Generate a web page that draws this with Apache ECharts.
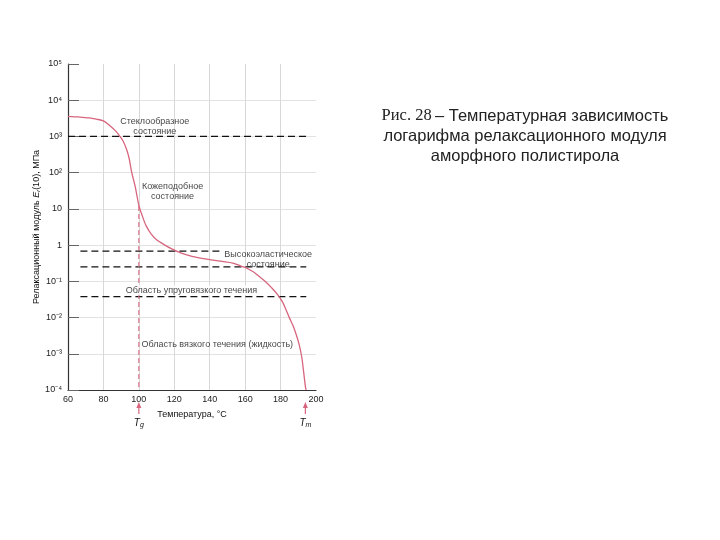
<!DOCTYPE html>
<html><head><meta charset="utf-8">
<script src="https://cdn.jsdelivr.net/npm/echarts@6/dist/echarts.min.js"></script>
<style>html,body{margin:0;padding:0;background:#fff}#c{width:720px;height:540px}</style>
</head><body><div id="c"></div>
<script>
// Temperature, °C
const curveT = [60, 66, 72, 76, 80, 83.5, 87, 89, 91, 93, 94.5, 96, 98, 100, 102, 104, 107, 110, 114, 118, 124, 130, 140, 147, 153, 158, 161, 165, 168, 172, 175, 178, 181, 183, 185, 187, 189, 190.5, 192, 193, 194, 194.4];
// Relaxation modulus E_r(10), MPa
const curveE = [3600, 3450, 3250, 3000, 2700, 2000, 1400, 1050, 760, 450, 250, 100, 40, 12.5, 6.3, 3.5, 2.0, 1.4, 1.05, 0.81, 0.60, 0.49, 0.40, 0.355, 0.32, 0.26, 0.23, 0.178, 0.135, 0.093, 0.066, 0.045, 0.0275, 0.0166, 0.0098, 0.006, 0.0032, 0.00178, 0.00079, 0.00032, 0.000126, 0.0001];
// Dashed region boundaries
const dashLevels = [1000, 0.68, 0.25, 0.038];
const dashFrom = [60, 67, 67, 67];
const dashTo = [196, 147, 194.5, 194.5];
// Glass transition & melting temperatures
const Tg = 100, TgE = 12;
const Tm = 194;
// Region labels
const regionText = ['Стеклообразное\nсостояние', 'Кожеподобное\nсостояние', 'Высокоэластическое\nсостояние', 'Область упруговязкого течения', 'Область вязкого течения (жидкость)'];
const regionT = [109, 119, 173, 129.7, 144.3];
const regionE = [1900, 30, 0.41, 0.057, 0.00175];
// Axis ticks
const xTicks = [60, 80, 100, 120, 140, 160, 180, 200];
const yTickLabels = {5: '10⁵', 4: '10⁴', 3: '10³', 2: '10²', 1: '10', 0: '1', '-1': '10⁻¹', '-2': '10⁻²', '-3': '10⁻³', '-4': '10⁻⁴'};

const PINK = '#d7657e';
const FONT = 'Liberation Sans';
const TXT = '#111';
const chart = echarts.init(document.getElementById('c'), null, {renderer: 'canvas'});

const series = [];
series.push({
  type: 'line', data: curveT.map((t, i) => [t, curveE[i]]), smooth: 0.3, showSymbol: false,
  lineStyle: {color: PINK, width: 1.3}, z: 5, silent: true
});
dashLevels.forEach((lv, i) => {
  series.push({
    type: 'line', data: [[dashFrom[i], lv], [dashTo[i], lv]], showSymbol: false, silent: true,
    lineStyle: {color: '#111', width: 1.2, type: [7, 4]}, z: 3
  });
});
series.push({
  type: 'line', data: [[Tg, TgE], [Tg, 1e-4]], showSymbol: false, silent: true,
  lineStyle: {color: PINK, width: 1.1, type: [5, 3]}, z: 4
});
series.push({
  type: 'scatter', symbolSize: 0, silent: true, z: 6,
  data: regionT.map((t, i) => ({value: [t, regionE[i]], label: {
    show: true, position: 'inside', formatter: regionText[i], fontFamily: FONT, fontSize: 9, color: TXT,
    lineHeight: 10, align: 'center',
    backgroundColor: i === 3 ? '#fff' : 'transparent', padding: i === 3 ? [0, 2] : 0
  }}))
});

chart.setOption({
  animation: false,
  grid: {left: 68, right: 404, top: 64, bottom: 150, containLabel: false},
  xAxis: {
    type: 'value', min: 60, max: 200, interval: 20,
    name: 'Температура, °C', nameLocation: 'middle', nameGap: 20,
    nameTextStyle: {fontFamily: FONT, fontSize: 9, color: TXT},
    axisLine: {lineStyle: {color: '#333', width: 1.2}},
    axisTick: {show: false},
    axisLabel: {fontFamily: FONT, fontSize: 9, color: '#222', margin: 5},
    splitLine: {show: true, showMaxLine: false, showMinLine: false, lineStyle: {color: '#d8d8d8', width: 1}}
  },
  yAxis: {
    type: 'log', logBase: 10, min: 1e-4, max: 1e5,
    name: '{n|Релаксационный модуль }{i|E}{s|r}{n|(10), МПа}', nameLocation: 'middle', nameGap: 25, nameRotate: 90,
    nameTextStyle: {rich: {
      n: {fontFamily: FONT, fontSize: 9, color: TXT},
      i: {fontFamily: FONT, fontSize: 9, color: TXT, fontStyle: 'italic'},
      s: {fontFamily: FONT, fontSize: 6, color: TXT, fontStyle: 'italic', verticalAlign: 'bottom', padding: [4, 0, 0, 0]}
    }},
    axisLine: {show: true, lineStyle: {color: '#333', width: 1.2}},
    axisTick: {show: true, inside: true, length: 11, lineStyle: {color: '#666'}},
    axisLabel: {fontFamily: FONT, fontSize: 9, color: '#222', margin: 6,
      formatter: v => yTickLabels[Math.round(Math.log10(v))]},
    splitLine: {show: true, showMaxLine: false, showMinLine: false, lineStyle: {color: '#e2e2e2', width: 1}}
  },
  series: series
});

// Arrows and labels below axis at Tg and Tm
const g = [];
[[Tg, 'g'], [Tm, 'm']].forEach(([t, sub]) => {
  const p = chart.convertToPixel({gridIndex: 0}, [t, 1e-4]);
  const x = p[0], y0 = p[1];
  g.push({type: 'line', shape: {x1: x, y1: y0 + 17, x2: x, y2: y0 + 24}, style: {stroke: PINK, lineWidth: 1.2}});
  g.push({type: 'polygon', shape: {points: [[x, y0 + 12], [x - 2.5, y0 + 18], [x + 2.5, y0 + 18]]}, style: {fill: PINK}});
  g.push({type: 'text', x: x, y: y0 + 27, style: {
    text: '{t|T}{s|' + sub + '}', align: 'center', verticalAlign: 'top',
    rich: {t: {fontFamily: FONT, fontSize: 10, fontStyle: 'italic', fill: TXT},
           s: {fontFamily: FONT, fontSize: 7, fontStyle: 'italic', fill: TXT, verticalAlign: 'bottom', padding: [5, 0, 0, 0]}}
  }});
});
// Caption
g.push({type: 'text', x: 525, y: 136, style: {
  text: '{a|Рис. 28} {b|– Температурная зависимость}\n{b|логарифма релаксационного модуля}\n{b|аморфного полистирола}',
  align: 'center', verticalAlign: 'middle', lineHeight: 20,
  rich: {a: {fontFamily: 'Liberation Serif', fontSize: 16.5, fill: '#222', lineHeight: 20},
         b: {fontFamily: FONT, fontSize: 16.5, fill: '#222', lineHeight: 20}}
}});
chart.setOption({graphic: g});
</script>
</body></html>
